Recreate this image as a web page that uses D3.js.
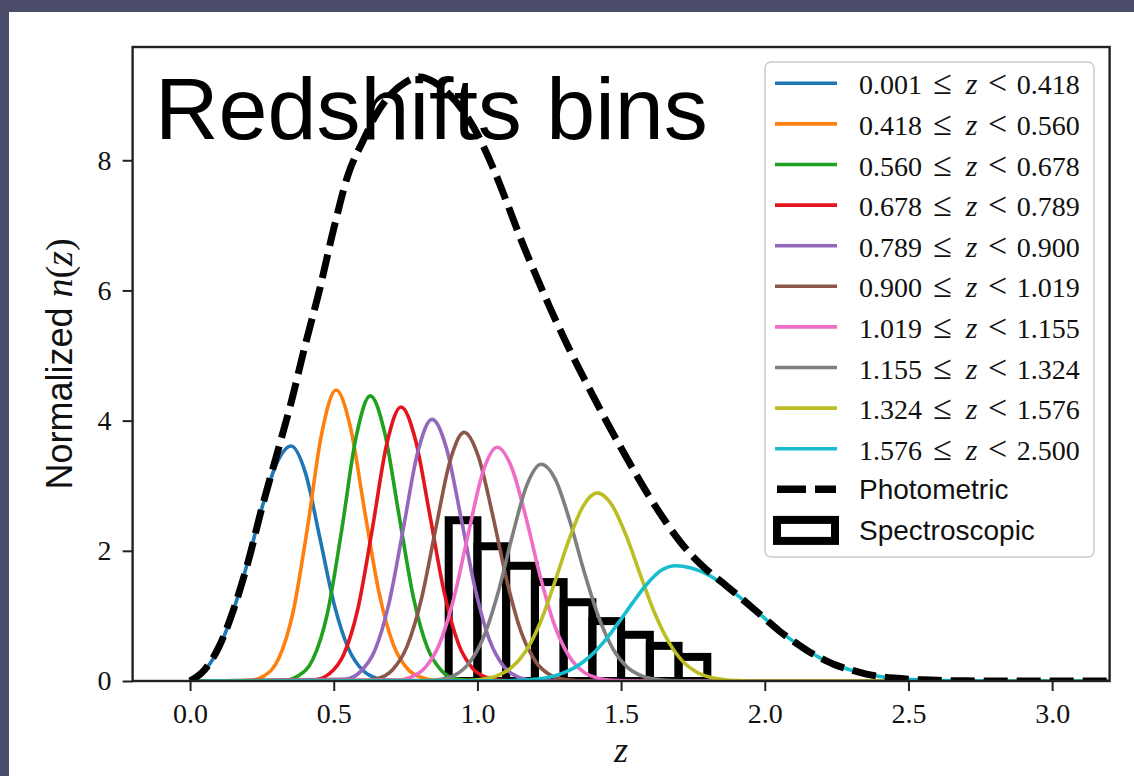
<!DOCTYPE html>
<html>
<head>
<meta charset="utf-8">
<script src="https://cdn.jsdelivr.net/npm/d3@7"></script>
<style>
  html, body { margin: 0; padding: 0; background: #4c4d6b; }
  svg { display: block; }
</style>
</head>
<body>
<svg id="chart" width="1134" height="776"></svg>
<script>
// ---- data -------------------------------------------------------------
const binLo = ["0.001", "0.418", "0.560", "0.678", "0.789", "0.900", "1.019", "1.155", "1.324", "1.576"];
const binHi = ["0.418", "0.560", "0.678", "0.789", "0.900", "1.019", "1.155", "1.324", "1.576", "2.500"];
const binColors = ["#1f77b4", "#ff7f0e", "#1fa01f", "#e4141c", "#9467bd", "#8c564b", "#f06cc8", "#7f7f7f", "#bcbd22", "#17becf"];

// n(z) of each tomographic bin
const bin1Z = [0, 0.052, 0.102, 0.152, 0.202, 0.252, 0.302, 0.352, 0.402, 0.452, 0.502, 0.552, 0.602, 0.652, 0.702, 0.8, 3.2];
const bin1N = [0, 0.17, 0.52, 1.1, 1.85, 2.69, 3.35, 3.61, 3.19, 2.19, 1.17, 0.49, 0.16, 0.04, 0.01, 0, 0];
const bin2Z = [0, 0.208, 0.258, 0.308, 0.358, 0.408, 0.458, 0.508, 0.558, 0.608, 0.658, 0.708, 0.758, 0.808, 0.858, 0.95, 3.2];
const bin2N = [0, 0.01, 0.08, 0.34, 1.05, 2.34, 3.80, 4.47, 3.90, 2.60, 1.35, 0.55, 0.18, 0.05, 0.01, 0, 0];
const bin3Z = [0, 0.327, 0.377, 0.427, 0.477, 0.527, 0.577, 0.627, 0.677, 0.727, 0.777, 0.827, 0.877, 0.927, 0.977, 1.05, 3.2];
const bin3N = [0, 0.01, 0.08, 0.33, 1.02, 2.30, 3.73, 4.38, 3.82, 2.55, 1.29, 0.50, 0.15, 0.03, 0.01, 0, 0];
const bin4Z = [0, 0.434, 0.484, 0.534, 0.584, 0.634, 0.684, 0.734, 0.784, 0.834, 0.884, 0.934, 0.984, 1.034, 1.084, 1.15, 3.2];
const bin4N = [0, 0.02, 0.11, 0.40, 1.11, 2.33, 3.63, 4.21, 3.71, 2.56, 1.37, 0.57, 0.19, 0.05, 0.01, 0, 0];
const bin5Z = [0, 0.542, 0.592, 0.642, 0.692, 0.742, 0.792, 0.842, 0.892, 0.942, 0.992, 1.042, 1.092, 1.142, 1.192, 1.28, 3.2];
const bin5N = [0, 0.03, 0.14, 0.46, 1.19, 2.34, 3.51, 4.02, 3.58, 2.53, 1.42, 0.63, 0.22, 0.06, 0.014, 0, 0];
const bin6Z = [0, 0.604, 0.654, 0.704, 0.754, 0.804, 0.854, 0.904, 0.954, 1.004, 1.054, 1.104, 1.154, 1.204, 1.254, 1.304, 1.40, 3.2];
const bin6N = [0, 0.01, 0.04, 0.17, 0.52, 1.24, 2.32, 3.37, 3.82, 3.44, 2.53, 1.51, 0.73, 0.29, 0.09, 0.024, 0, 0];
const bin7Z = [0, 0.719, 0.769, 0.819, 0.869, 0.919, 0.969, 1.019, 1.069, 1.119, 1.169, 1.219, 1.269, 1.319, 1.369, 1.419, 1.469, 1.55, 3.2];
const bin7N = [0, 0.014, 0.06, 0.21, 0.58, 1.29, 2.28, 3.21, 3.59, 3.28, 2.51, 1.60, 0.85, 0.38, 0.14, 0.044, 0.011, 0, 0];
const bin8Z = [0, 0.822, 0.872, 0.922, 0.972, 1.022, 1.072, 1.122, 1.172, 1.222, 1.272, 1.322, 1.372, 1.422, 1.472, 1.522, 1.572, 1.622, 1.672, 1.75, 3.2];
const bin8N = [0, 0.006, 0.025, 0.09, 0.28, 0.68, 1.36, 2.24, 3.01, 3.33, 3.09, 2.45, 1.67, 0.98, 0.49, 0.21, 0.079, 0.025, 0.007, 0, 0];
const bin9Z = [0, 0.967, 1.017, 1.067, 1.117, 1.167, 1.217, 1.267, 1.317, 1.367, 1.417, 1.467, 1.517, 1.567, 1.617, 1.667, 1.717, 1.767, 1.817, 1.867, 1.917, 2.0, 3.2];
const bin9N = [0, 0.008, 0.025, 0.078, 0.20, 0.45, 0.88, 1.49, 2.15, 2.68, 2.89, 2.71, 2.24, 1.63, 1.04, 0.59, 0.29, 0.127, 0.049, 0.016, 0.005, 0, 0];
const bin10Z = [0, 1.09, 1.14, 1.19, 1.24, 1.29, 1.34, 1.39, 1.44, 1.49, 1.54, 1.59, 1.64, 1.69, 1.74, 1.79, 1.84, 1.89, 1.94, 1.99, 2.04, 2.09, 2.14, 2.19, 2.24, 2.29, 2.34, 2.39, 2.44, 2.49, 2.54, 2.59, 2.69, 2.8, 3.2];
const bin10N = [0, 0.003, 0.009, 0.023, 0.05, 0.11, 0.21, 0.37, 0.60, 0.89, 1.20, 1.49, 1.70, 1.77, 1.74, 1.66, 1.53, 1.37, 1.19, 1.0, 0.81, 0.64, 0.49, 0.36, 0.26, 0.18, 0.12, 0.078, 0.049, 0.03, 0.018, 0.01, 0.003, 0, 0];

// total photometric n(z)
const photZ = [0, 0.05, 0.10, 0.15, 0.20, 0.25, 0.30, 0.35, 0.40, 0.45, 0.50, 0.55, 0.60, 0.65, 0.70, 0.75, 0.80, 0.85, 0.90, 0.95,
               1.00, 1.05, 1.10, 1.15, 1.20, 1.25, 1.30, 1.35, 1.40, 1.45, 1.50, 1.55, 1.60, 1.65, 1.70, 1.75, 1.80, 1.85, 1.90, 1.95,
               2.00, 2.05, 2.10, 2.15, 2.20, 2.25, 2.30, 2.35, 2.40, 2.45, 2.50, 2.55, 2.60, 2.70, 2.80, 3.20];
const photN = [0, 0.17, 0.52, 1.08, 1.80, 2.66, 3.45, 4.25, 5.15, 6.00, 6.95, 7.78, 8.28, 8.72, 9.02, 9.20, 9.28, 9.20, 9.02, 8.76,
               8.40, 7.93, 7.38, 6.80, 6.27, 5.76, 5.28, 4.83, 4.40, 3.98, 3.58, 3.19, 2.82, 2.48, 2.17, 1.91, 1.70, 1.52, 1.34, 1.15,
               0.96, 0.77, 0.61, 0.46, 0.34, 0.24, 0.17, 0.11, 0.07, 0.045, 0.028, 0.018, 0.01, 0.003, 0, 0];

// spectroscopic histogram
const specEdges = [0.9, 1.0, 1.1, 1.2, 1.3, 1.4, 1.5, 1.6, 1.7, 1.8];
const specHeights = [2.47, 2.07, 1.77, 1.52, 1.21, 0.92, 0.71, 0.54, 0.37];

const xTicks = [0.0, 0.5, 1.0, 1.5, 2.0, 2.5, 3.0];
const yTicks = [0, 2, 4, 6, 8];

// ---- layout -----------------------------------------------------------
const svg = d3.select("#chart");
const plot = { left: 132.6, right: 1109.6, top: 47, bottom: 681 };

const x = d3.scaleLinear().domain([-0.2, 3.2]).range([plot.left, plot.right]);
const y = d3.scaleLinear().domain([0, 9.74]).range([plot.bottom, plot.top]);

// white slide panel
svg.append("rect").attr("x", 9).attr("y", 12).attr("width", 1125).attr("height", 764).attr("fill", "#ffffff");

svg.append("defs").append("clipPath").attr("id", "plotClip")
  .append("rect")
  .attr("x", plot.left).attr("y", plot.top)
  .attr("width", plot.right - plot.left).attr("height", plot.bottom - plot.top);

const g = svg.append("g").attr("clip-path", "url(#plotClip)");

// spectroscopic bars (outlined)
const bars = specHeights.map((h, i) => ({ x0: specEdges[i], x1: specEdges[i + 1], h }));
g.selectAll("rect.spec").data(bars).enter().append("rect")
  .attr("class", "spec")
  .attr("x", d => x(d.x0))
  .attr("y", d => y(d.h))
  .attr("width", d => x(d.x1) - x(d.x0))
  .attr("height", d => y(0) - y(d.h))
  .attr("fill", "none")
  .attr("stroke", "#000")
  .attr("stroke-width", 8);

// bin curves
const binZ = [bin1Z, bin2Z, bin3Z, bin4Z, bin5Z, bin6Z, bin7Z, bin8Z, bin9Z, bin10Z];
const binN = [bin1N, bin2N, bin3N, bin4N, bin5N, bin6N, bin7N, bin8N, bin9N, bin10N];
const line = d3.line().x(d => x(d[0])).y(d => y(d[1])).curve(d3.curveMonotoneX);

binZ.forEach((zs, i) => {
  const pts = zs.map((z, j) => [z, binN[i][j]]);
  g.append("path").datum(pts)
    .attr("d", line)
    .attr("fill", "none")
    .attr("stroke", binColors[i])
    .attr("stroke-width", 3.6)
    .attr("stroke-linejoin", "round");
});

// photometric total
g.append("path").datum(photZ.map((z, j) => [z, photN[j]]))
  .attr("d", line)
  .attr("fill", "none")
  .attr("stroke", "#000")
  .attr("stroke-width", 7)
  .attr("stroke-dasharray", "24,9");

// frame
svg.append("rect")
  .attr("x", plot.left).attr("y", plot.top)
  .attr("width", plot.right - plot.left).attr("height", plot.bottom - plot.top)
  .attr("fill", "none").attr("stroke", "#222").attr("stroke-width", 2.4);

// axes
const xAxis = svg.append("g").attr("transform", `translate(0,${plot.bottom})`)
  .call(d3.axisBottom(x).tickValues(xTicks).tickFormat(d3.format(".1f")).tickSize(10).tickPadding(12).tickSizeOuter(0));
const yAxis = svg.append("g").attr("transform", `translate(${plot.left},0)`)
  .call(d3.axisLeft(y).tickValues(yTicks).tickFormat(d3.format("d")).tickSize(10).tickPadding(11).tickSizeOuter(0));
[xAxis, yAxis].forEach(a => {
  a.select(".domain").remove();
  a.selectAll(".tick line").attr("stroke", "#222").attr("stroke-width", 2);
  a.selectAll(".tick text")
    .attr("font-family", "'Liberation Serif', 'DejaVu Serif', serif")
    .attr("font-size", 28).attr("fill", "#111");
});

// axis labels
svg.append("text")
  .attr("x", (plot.left + plot.right) / 2).attr("y", 762)
  .attr("text-anchor", "middle")
  .attr("font-family", "'Liberation Serif', serif").attr("font-style", "italic")
  .attr("font-size", 36).attr("fill", "#111")
  .text("z");

const yl = svg.append("text")
  .attr("transform", `translate(72,${(plot.top + plot.bottom) / 2}) rotate(-90)`)
  .attr("text-anchor", "middle").attr("fill", "#111");
yl.append("tspan").attr("font-family", "'Liberation Sans', Arial, sans-serif").attr("font-size", 36).text("Normalized ");
yl.append("tspan").attr("font-family", "'Liberation Serif', serif").attr("font-style", "italic").attr("font-size", 38).text("n");
yl.append("tspan").attr("font-family", "'Liberation Serif', serif").attr("font-size", 38).text("(");
yl.append("tspan").attr("font-family", "'Liberation Serif', serif").attr("font-style", "italic").attr("font-size", 38).text("z");
yl.append("tspan").attr("font-family", "'Liberation Serif', serif").attr("font-size", 38).text(")");

// legend
const lg = svg.append("g");
lg.append("rect").attr("x", 765).attr("y", 62).attr("width", 329).attr("height", 495).attr("rx", 6)
  .attr("fill", "#fff").attr("fill-opacity", 0.8).attr("stroke", "#cccccc").attr("stroke-width", 1.5);

const rowY = i => 83.3 + i * 40.6;
const serif = "'Liberation Serif', 'DejaVu Serif', serif";
binLo.forEach((lo, i) => {
  const yy = rowY(i);
  lg.append("line").attr("x1", 775).attr("x2", 837).attr("y1", yy).attr("y2", yy)
    .attr("stroke", binColors[i]).attr("stroke-width", 3.6);
  const base = yy + 11;
  lg.append("text").attr("x", 859).attr("y", base).attr("font-family", serif).attr("font-size", 28).attr("fill", "#111").text(lo);
  lg.append("text").attr("x", 942.5).attr("y", base).attr("text-anchor", "middle").attr("font-family", serif).attr("font-size", 34).attr("fill", "#111").text("\u2264");
  lg.append("text").attr("x", 971.7).attr("y", base).attr("text-anchor", "middle").attr("font-family", serif).attr("font-style", "italic").attr("font-size", 30).attr("fill", "#111").text("z");
  lg.append("text").attr("x", 997.5).attr("y", base).attr("text-anchor", "middle").attr("font-family", serif).attr("font-size", 34).attr("fill", "#111").text("<");
  lg.append("text").attr("x", 1016.7).attr("y", base).attr("font-family", serif).attr("font-size", 28).attr("fill", "#111").text(binHi[i]);
});

const yPh = rowY(10);
lg.append("line").attr("x1", 777).attr("x2", 836).attr("y1", yPh).attr("y2", yPh)
  .attr("stroke", "#000").attr("stroke-width", 7.5).attr("stroke-dasharray", "29,9");
lg.append("text").attr("x", 859).attr("y", yPh + 10).attr("font-family", "'Liberation Sans', Arial, sans-serif")
  .attr("font-size", 28).attr("fill", "#111").text("Photometric");

const ySp = rowY(11);
lg.append("rect").attr("x", 777).attr("y", ySp - 10).attr("width", 58).attr("height", 21)
  .attr("fill", "none").attr("stroke", "#000").attr("stroke-width", 8);
lg.append("text").attr("x", 859).attr("y", ySp + 10).attr("font-family", "'Liberation Sans', Arial, sans-serif")
  .attr("font-size", 28).attr("fill", "#111").text("Spectroscopic");

// title overlay
svg.append("text").attr("x", 155).attr("y", 139)
  .attr("font-family", "'Liberation Sans', Arial, sans-serif").attr("font-size", 88).attr("fill", "#000")
  .text("Redshifts bins");
</script>
</body>
</html>
